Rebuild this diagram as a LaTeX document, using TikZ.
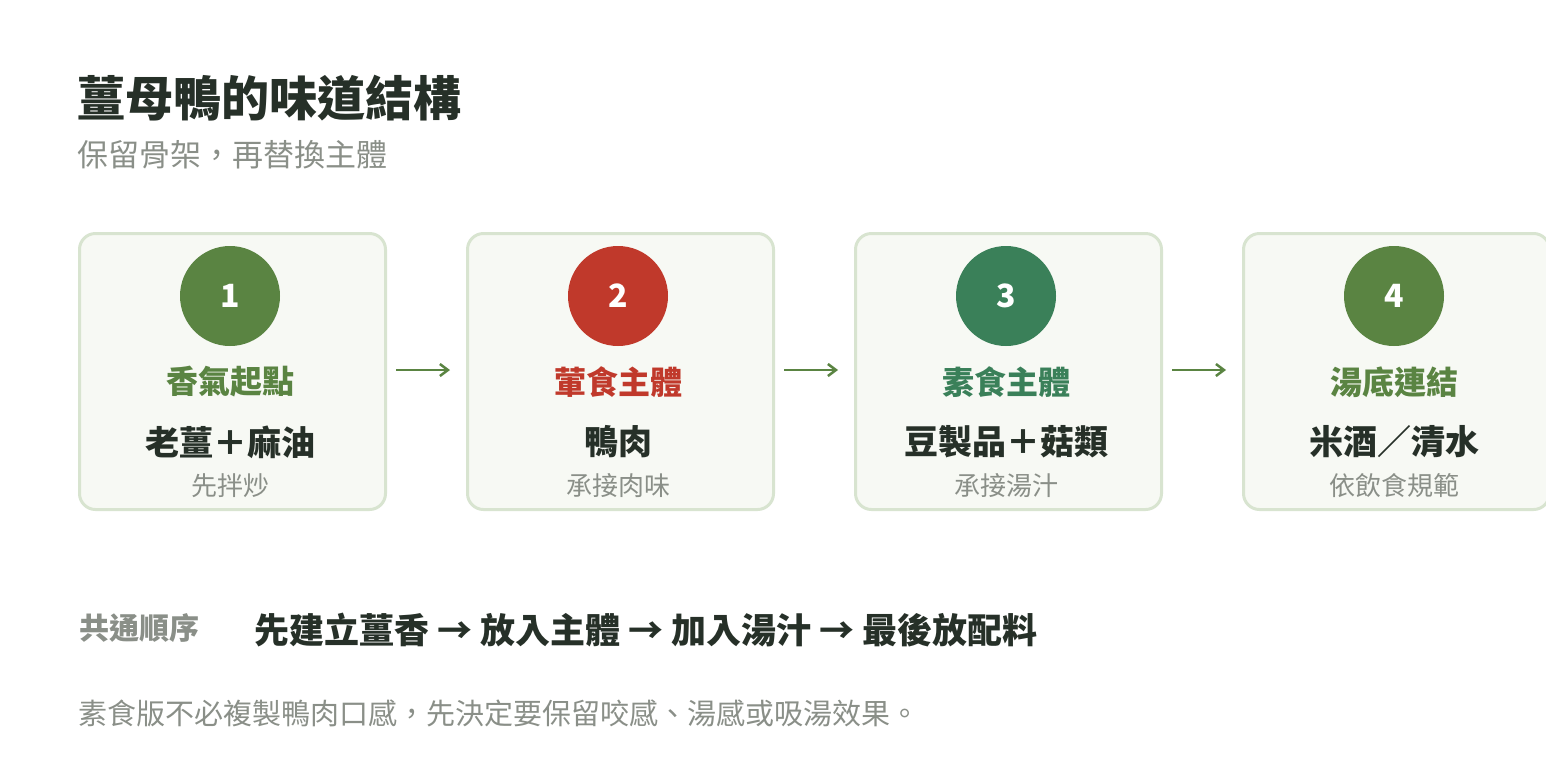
\documentclass[tikz,border=0pt]{standalone}
\usepackage{fontspec}
\setmainfont{Noto Sans CJK TC}
\newfontfamily\cjkb{Noto Sans CJK TC Bold}
\usetikzlibrary{arrows.meta}
\definecolor{boxfill}{HTML}{F7F9F4}
\definecolor{boxline}{HTML}{D8E4D0}
\definecolor{gA}{HTML}{5A8442}
\definecolor{rB}{HTML}{C0392B}
\definecolor{tC}{HTML}{3A8059}
\definecolor{dark}{HTML}{263028}
\definecolor{grayt}{HTML}{8A8F88}
\begin{document}
\begin{tikzpicture}[x=1pt,y=-1pt,
  card/.style={draw=boxline,line width=3pt,fill=boxfill,rounded corners=16pt,minimum width=306pt,minimum height=276pt,anchor=north west,inner sep=0},
  num/.style={circle,minimum size=100pt,inner sep=0,text=white,font=\fontsize{32}{32}\selectfont\bfseries},
  lab/.style={font=\fontsize{32}{32}\selectfont\bfseries},
  main/.style={font=\fontsize{34}{34}\selectfont\bfseries,text=dark},
  sub/.style={font=\fontsize{26}{26}\selectfont,text=grayt},
  arr/.style={draw=gA,line width=2.5pt,-{Straight Barb[length=8pt,width=12pt]}}]
\useasboundingbox[fill=white] (0,0) rectangle (1546,780);
\node[anchor=west,font=\fontsize{48}{48}\selectfont\bfseries,text=dark] (title) at (74,98) {薑母鴨的味道結構};
\node[anchor=west,font=\fontsize{31}{31}\selectfont,text=grayt] (subtitle) at (74,155) {保留骨架，再替換主體};
\foreach \i/\x/\c/\l/\m/\s in {1/78/gA/香氣起點/老薑＋麻油/先拌炒, 2/466/rB/葷食主體/鴨肉/承接肉味, 3/854/tC/素食主體/豆製品＋菇類/承接湯汁, 4/1242/gA/湯底連結/米酒／清水/依飲食規範}{
  \node[card] (card\i) at (\x,232) {};
  \node[num,fill=\c] (n\i) at (\x+152,296) {\i};
  \node[lab,text=\c] (l\i) at (\x+152,382) {\l};
  \node[main] (m\i) at (\x+152,442) {\m};
  \node[sub] (s\i) at (\x+152,486) {\s};
}
\coordinate (a1) at (396,370); \coordinate (b1) at (450,370);
\coordinate (a2) at (784,370); \coordinate (b2) at (838,370);
\coordinate (a3) at (1172,370); \coordinate (b3) at (1226,370);
\draw[arr] (a1) -- (b1); \draw[arr] (a2) -- (b2); \draw[arr] (a3) -- (b3);
\node[anchor=west,font=\fontsize{30}{30}\selectfont\bfseries,text=grayt] (seqlab) at (76,628) {共通順序};
\node[anchor=west,font=\fontsize{35}{35}\selectfont\bfseries,text=dark] (seq) at (251,630) {先建立薑香 → 放入主體 → 加入湯汁 → 最後放配料};
\node[anchor=west,font=\fontsize{29}{29}\selectfont,text=grayt] (foot) at (75,713) {素食版不必複製鴨肉口感，先決定要保留咬感、湯感或吸湯效果。};
\end{tikzpicture}
\end{document}
